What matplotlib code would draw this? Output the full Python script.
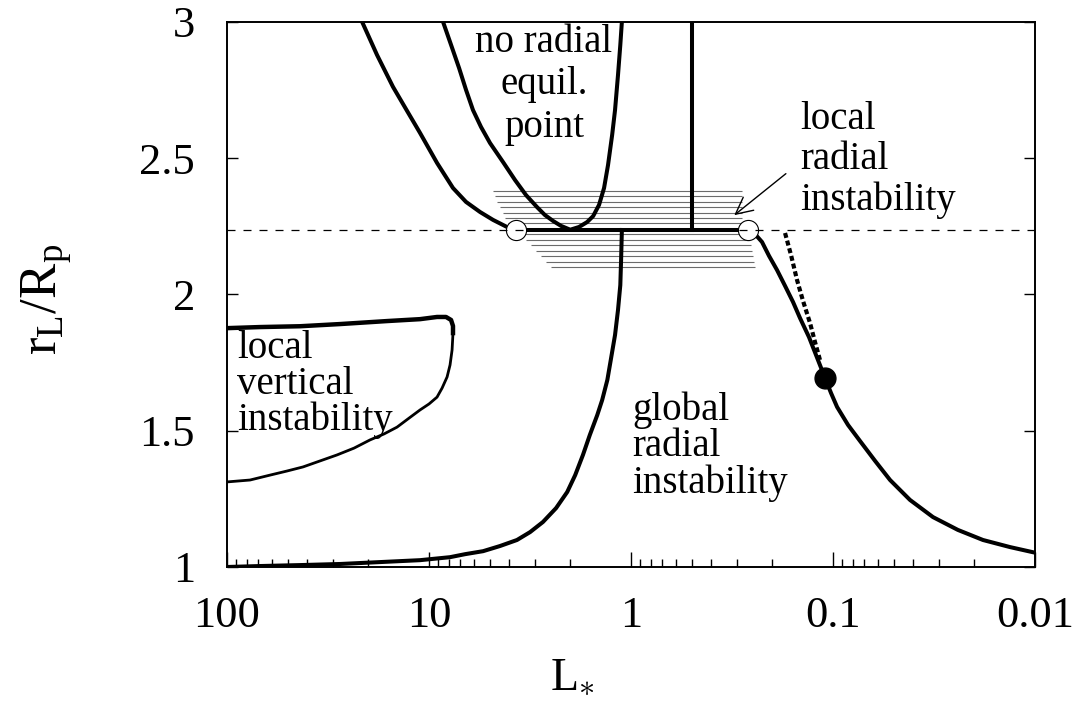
import numpy as np
import matplotlib.pyplot as plt
from matplotlib.ticker import LogLocator, NullFormatter

plt.rcParams['font.family'] = ['Liberation Serif', 'DejaVu Serif']
plt.rcParams['mathtext.fontset'] = 'custom'
plt.rcParams['mathtext.rm'] = 'Liberation Serif'
plt.rcParams['mathtext.it'] = 'Liberation Serif:italic'

# Critical radius of the Lagrange point
r_crit = 2.236

# Outer boundary of the "no radial equilibrium" region
outer_L = [21.46, 18.09, 15.08, 12.85, 11.08, 9.13, 7.61, 6.56, 5.59, 4.82, 4.11, 3.71]
outer_r = [3.0, 2.878, 2.761, 2.673, 2.592, 2.482, 2.390, 2.339, 2.302, 2.273, 2.247, 2.236]

# Inner "no radial equilibrium" parabola
inner_L = [8.53, 7.78, 7.10, 6.56, 6.06, 5.53, 4.99, 4.30, 3.75, 3.31, 2.92, 2.67, 2.43,
           2.22, 2.00, 1.81, 1.65, 1.54, 1.44, 1.36, 1.30, 1.24, 1.20, 1.16, 1.13, 1.11]
inner_r = [3.0, 2.915, 2.830, 2.750, 2.676, 2.614, 2.555, 2.485, 2.419, 2.364, 2.320, 2.291,
           2.269, 2.251, 2.237, 2.247, 2.265, 2.287, 2.328, 2.390, 2.474, 2.585, 2.676, 2.805,
           2.915, 3.0]

# Global radial instability boundary
glob_L = [1.11, 1.12, 1.13, 1.16, 1.20, 1.26, 1.31, 1.39, 1.47, 1.60, 1.73, 1.89, 2.07, 2.35,
          2.73, 3.16, 3.67, 4.45, 5.40, 6.63, 7.87, 11.08, 17.48, 27.57, 43.5, 68.7, 100.0]
glob_r = [2.236, 2.126, 2.034, 1.943, 1.851, 1.759, 1.686, 1.612, 1.557, 1.484, 1.411, 1.337,
          1.275, 1.216, 1.165, 1.128, 1.099, 1.077, 1.058, 1.047, 1.036, 1.025, 1.018, 1.011,
          1.007, 1.0035, 1.0]

# Right branch
right_L = [0.2635, 0.2433, 0.2247, 0.2074, 0.1893, 0.1728, 0.1578, 0.1457, 0.1315, 0.1187,
           0.1095, 0.1023, 0.0955, 0.0843, 0.0735, 0.0619, 0.0522, 0.0416, 0.0320, 0.0241,
           0.0181, 0.0133, 0.0098]
right_r = [2.236, 2.221, 2.192, 2.141, 2.089, 2.031, 1.972, 1.913, 1.843, 1.759, 1.693, 1.638,
           1.587, 1.521, 1.462, 1.389, 1.319, 1.246, 1.183, 1.136, 1.099, 1.073, 1.051]

# Dotted approximation next to the right branch
dot_L = [0.1728, 0.1614, 0.1508, 0.1408, 0.1300, 0.1228, 0.1160]
dot_r = [2.225, 2.144, 2.053, 1.976, 1.895, 1.825, 1.759]

# Local vertical instability loop (upper and lower parts)
loop_up_L = [100.0, 68.7, 43.5, 27.57, 16.14, 11.08, 9.13, 8.24, 7.78, 7.61, 7.61]
loop_up_r = [1.876, 1.880, 1.883, 1.891, 1.902, 1.909, 1.917, 1.917, 1.906, 1.884, 1.858]
loop_lo_L = [7.61, 7.69, 7.87, 8.14, 8.62, 9.13, 10.0, 11.08, 12.56, 14.40, 16.70, 19.60,
             23.51, 28.54, 34.64, 42.05, 50.47, 61.25, 76.9, 100.0]
loop_lo_r = [1.858, 1.796, 1.741, 1.697, 1.656, 1.623, 1.598, 1.576, 1.546, 1.513, 1.488,
             1.466, 1.436, 1.411, 1.389, 1.367, 1.352, 1.337, 1.319, 1.312]

# Vertical boundary and the critical segment
vert_L = 0.50
seg_L = [3.71, 0.2635]

# Local radial instability band (horizontal hatch lines)
hatch_up_r = [2.38, 2.36, 2.34, 2.32, 2.30, 2.28, 2.26]
hatch_up_L0 = [4.82, 4.71, 4.61, 4.45, 4.30, 4.21, 4.06]
hatch_up_L1 = [0.282, 0.282, 0.282, 0.282, 0.282, 0.282, 0.282]
hatch_lo_r = [2.22, 2.20, 2.18, 2.16, 2.14, 2.12, 2.10]
hatch_lo_L0 = [3.50, 3.31, 3.13, 2.95, 2.79, 2.64, 2.49]
hatch_lo_L1 = [0.260, 0.257, 0.254, 0.251, 0.249, 0.246, 0.243]

# Marked points
open_L = [3.71, 0.2635]
open_r = [2.236, 2.236]
full_L = [0.1095]
full_r = [1.693]

xticks = [100, 10, 1, 0.1, 0.01]
xticklabels = ['100', '10', '1', '0.1', '0.01']
yticks = [1, 1.5, 2, 2.5, 3]
yticklabels = ['1', '1.5', '2', '2.5', '3']

fig = plt.figure(figsize=(10.91, 7.09), dpi=100)
ax = fig.add_axes([0.2081, 0.2003, 0.7406, 0.7691])

lw = 2.9

# Hatched band
ax.hlines(hatch_up_r, hatch_up_L0, hatch_up_L1, colors='0.42', lw=0.8, zorder=1)
ax.hlines(hatch_lo_r, hatch_lo_L0, hatch_lo_L1, colors='0.42', lw=0.8, zorder=1)

# Boundary curves
ax.plot(outer_L, outer_r, color='black', lw=lw, zorder=3)
ax.plot(inner_L, inner_r, color='black', lw=lw, zorder=3)
ax.plot(glob_L, glob_r, color='black', lw=lw, zorder=3)
ax.plot(right_L, right_r, color='black', lw=lw, zorder=3)
ax.plot(dot_L, dot_r, color='black', lw=3.0, linestyle=(0, (1.2, 0.7)), zorder=3)
ax.plot(loop_up_L, loop_up_r, color='black', lw=3.2, zorder=3)
ax.plot(loop_lo_L, loop_lo_r, color='black', lw=2.0, zorder=3)
ax.plot([vert_L, vert_L], [r_crit, 3.0], color='black', lw=lw, zorder=3)
ax.plot(seg_L, [r_crit, r_crit], color='black', lw=lw, zorder=3)

# Dashed critical radius
ax.axhline(r_crit, color='black', lw=0.9, linestyle=(0, (6.4, 6.4)), zorder=5)

# Points
ax.plot(open_L, open_r, 'o', ms=14.5, mfc='white', mec='black', mew=0.8, zorder=4)
ax.plot(full_L, full_r, 'o', ms=15, color='black', zorder=4)

# Labels
fs = 28
ax.text(2.70, 2.577, 'no radial\nequil.\npoint', fontsize=fs, ha='center', va='baseline',
        multialignment='center', linespacing=1.2)
ax.text(89.2, 1.502, 'local\nvertical\ninstability', fontsize=fs, ha='left', va='baseline',
        linespacing=0.95)
ax.text(0.99, 1.271, 'global\nradial\ninstability', fontsize=fs, ha='left', va='baseline',
        linespacing=0.97)
ax.text(0.146, 2.309, 'local\nradial\ninstability', fontsize=fs, ha='left', va='baseline',
        linespacing=1.12)
ax.annotate('', xy=(0.316, 2.284), xytext=(0.167, 2.449),
            arrowprops=dict(arrowstyle='->', lw=1.0, mutation_scale=30, color='black'))

# Axes
ax.set_xscale('log')
ax.set_xlim(100, 0.01)
ax.set_ylim(1, 3)
ax.set_xticks(xticks)
ax.set_xticklabels(xticklabels)
ax.xaxis.set_minor_locator(LogLocator(base=10, subs=np.arange(2, 10)))
ax.xaxis.set_minor_formatter(NullFormatter())
ax.set_yticks(yticks)
ax.set_yticklabels(yticklabels)
ax.tick_params(axis='x', which='both', direction='in', top=False, bottom=True,
               labelsize=32, pad=21, width=1)
ax.tick_params(axis='x', which='major', length=11)
ax.tick_params(axis='x', which='minor', length=6)
ax.tick_params(axis='y', which='both', direction='in', left=True, right=True,
               labelsize=32, pad=23, length=8, width=1)
for s in ax.spines.values():
    s.set_linewidth(1.4)

ax.set_xlabel(r'$\mathrm{L}_{\ast}$', fontsize=33)
ax.xaxis.set_label_coords(0.427, -0.165)
ax.set_ylabel(r'$\mathrm{r_L/R_p}$', fontsize=38)
ax.yaxis.set_label_coords(-0.19, 0.49)

fig.savefig('out.png', dpi=100)
